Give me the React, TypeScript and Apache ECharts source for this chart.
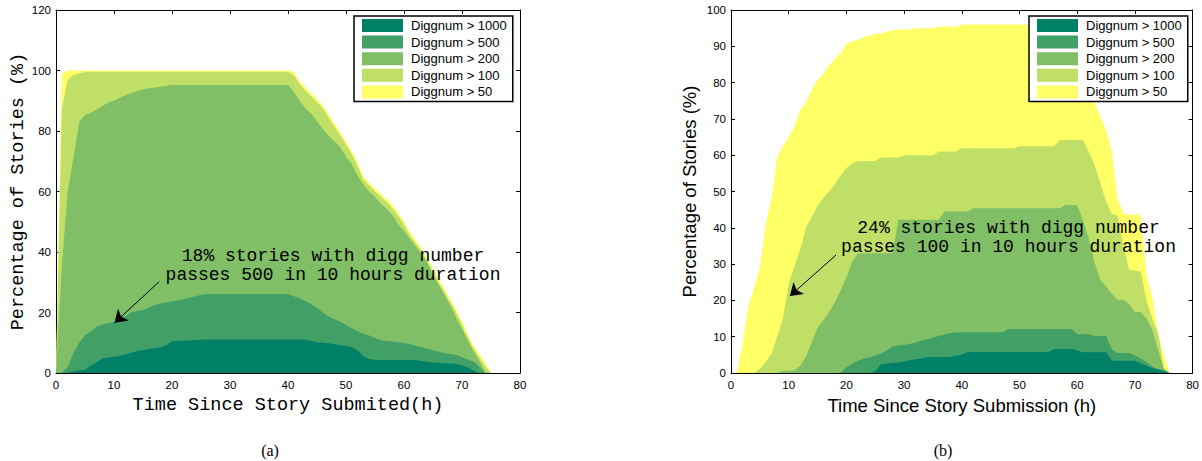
import React, { useEffect, useRef } from "react";
import * as echarts from "echarts";

// hours since submission (x positions of the sampled curves)
const hours = [
  0, 1, 2, 3, 4, 5, 6, 7, 8, 9, 10, 11, 12, 13, 14, 15, 16, 17, 18, 19,
  20, 21, 22, 23, 24, 25, 26, 27, 28, 29, 30, 31, 32, 33, 34, 35, 36, 37, 38, 39,
  40, 41, 42, 43, 44, 45, 46, 47, 48, 49, 50, 51, 52, 53, 54, 55, 56, 57, 58, 59,
  60, 61, 62, 63, 64, 65, 66, 67, 68, 69, 70, 71, 72, 73, 74, 75, 76,
];

const seriesNames = ["Diggnum > 1000", "Diggnum > 500", "Diggnum > 200", "Diggnum > 100", "Diggnum > 50"];
const colors = ["#008066", "#40A066", "#80BF66", "#BFDF66", "#FFFF66"];

// ---- Panel (a) ----
const a50 = [
  0, 99, 100, 100, 100, 100, 100, 100, 100, 100,
  100, 100, 100, 100, 100, 100, 100, 100, 100, 100,
  100, 100, 100, 100, 100, 100, 100, 100, 100, 100,
  100, 100, 100, 100, 100, 100, 100, 100, 100, 100,
  100, 99.5, 96.5, 94.5, 92.5, 90.5, 88.5, 85.5, 82.5, 79.5,
  76.5, 73.3, 69.5, 65, 63, 61, 59.3, 57.5, 55.5, 53,
  50, 46.6, 44, 41.4, 38, 34.6, 31, 27.8, 24.4, 21,
  17, 12.8, 9, 6.2, 3.4, 0, 0,
];
const a100 = [
  0, 87, 97, 98.5, 99, 99.5, 99.6, 99.6, 99.6, 99.6,
  99.6, 99.6, 99.6, 99.6, 99.6, 99.6, 99.6, 99.6, 99.6, 99.6,
  99.6, 99.6, 99.6, 99.6, 99.6, 99.6, 99.6, 99.6, 99.6, 99.6,
  99.6, 99.6, 99.6, 99.6, 99.6, 99.6, 99.6, 99.6, 99.6, 99.6,
  99.6, 98.5, 95.5, 93.5, 91.4, 89.5, 87.5, 84.5, 81.5, 78.5,
  75.5, 72.3, 68.5, 64, 62, 60, 58.3, 56.5, 54.5, 52,
  49, 45.6, 43, 40.4, 37, 33.6, 30, 26.8, 23.4, 20,
  16, 11.8, 8, 5.2, 2.4, 0, 0,
];
const a200 = [
  0, 35, 60, 71, 83, 85.3, 86, 87, 88.3, 89.3,
  90, 91, 91.8, 92.5, 93.2, 93.7, 94.1, 94.4, 94.6, 94.9,
  95.2, 95.2, 95.2, 95.2, 95.2, 95.2, 95.2, 95.2, 95.2, 95.2,
  95.2, 95.2, 95.2, 95.2, 95.2, 95.2, 95.2, 95.2, 95.2, 95.2,
  95.2, 93, 90, 87.5, 85.8, 83.2, 80.7, 78.4, 76.5, 74.6,
  71.5, 69, 65.2, 62.2, 60, 58.2, 56, 54.2, 52.2, 49.2,
  47, 44.4, 41.8, 39.4, 36.6, 32.5, 29, 25.8, 22.3, 18.2,
  14.6, 10.7, 7.2, 4, 0.3, 0, 0,
];
const a500 = [
  0, 0, 2, 6.5, 10, 12.5, 13.8, 15.3, 16, 16.5,
  17, 17.8, 18.8, 20, 20.5, 20.8, 21.6, 22.4, 23, 23.3,
  23.6, 24, 24.4, 24.9, 25.4, 25.8, 26.1, 26.1, 26.1, 26.1,
  26.1, 26.1, 26.1, 26.1, 26.1, 26.1, 26.1, 26.1, 26.1, 26.1,
  26.1, 25.4, 24.7, 23.8, 22.8, 21.5, 20, 18.7, 17.8, 17,
  15.9, 14.8, 13.8, 13, 12.4, 11.6, 10.8, 10.6, 10.4, 10.2,
  9.9, 9.5, 9, 8.5, 8, 7.5, 7, 6.5, 6.3, 6,
  5.2, 4.5, 3.7, 2, 0, 0, 0,
];
const a1000 = [
  0, 0, 0, 0.5, 0.8, 1, 2.5, 3.5, 4.8, 5.1,
  5.4, 5.7, 6.2, 6.8, 7.2, 7.6, 7.9, 8.2, 8.5, 9.2,
  10.5, 10.6, 10.7, 10.8, 10.9, 11, 11.1, 11.1, 11.1, 11.1,
  11.1, 11.1, 11.1, 11.1, 11.1, 11.1, 11.1, 11.1, 11.1, 11.1,
  11.1, 11.1, 11.1, 11.1, 10.6, 10.2, 10, 9.8, 9.5, 9.2,
  8.9, 8.5, 7.5, 5.5, 4.6, 4.4, 4.3, 4.3, 4.3, 4.3,
  4.3, 4.3, 4.3, 4, 3.7, 3.5, 3.4, 3.2, 3.1, 3,
  2.5, 1.8, 0.8, 0, 0, 0, 0,
];

// ---- Panel (b) ----
const b50 = [
  0, 0, 8, 18.5, 23.5, 29, 41, 48, 59.5, 62.5,
  65, 68, 72.5, 74.5, 78, 80.8, 82.4, 84.8, 86.5, 88.2,
  90.6, 91.3, 91.8, 92.4, 93, 93.3, 93.6, 94, 94.4, 94.6,
  94.6, 94.6, 95, 95, 95, 95, 95.4, 95.4, 95.4, 95.4,
  96, 96, 96, 96, 96, 96, 96, 96, 96, 96,
  96, 96, 96, 96, 96, 96, 96, 96, 96, 95,
  92, 87, 80, 74.5, 70.6, 67, 61, 48, 44, 43.6,
  43.6, 43.6, 27, 21, 11, 5, 0,
];
const b100 = [
  0, 0, 0, 0, 0, 1.2, 3, 5.3, 10, 15,
  24.5, 29.5, 34, 40, 43, 46, 48.2, 50, 52, 54.5,
  56.5, 57.8, 58.4, 58.4, 58.4, 58.4, 59.4, 59.4, 59.4, 59.4,
  60, 60, 60, 60, 60, 60, 61, 61, 61, 61,
  61.9, 61.9, 61.9, 61.9, 61.9, 61.9, 61.9, 61.9, 61.9, 61.9,
  62.5, 62.5, 62.5, 62.5, 62.5, 62.5, 62.5, 64.2, 64.2, 64.2,
  64.2, 64.2, 61, 57.5, 52.2, 47.3, 43.8, 43.3, 35, 28.5,
  28.2, 28, 20, 15, 11, 1.5, 0,
];
const b200 = [
  0, 0, 0, 0, 0, 0, 0, 0, 0, 0.6,
  0.6, 0.6, 2, 4.5, 8.5, 12.5, 14.5, 16.8, 19.5, 22.7,
  26.3, 30.5, 33, 33, 33, 33, 33, 33, 33, 42.2,
  42.2, 42.2, 42.2, 42.2, 42.2, 42.2, 42.2, 44.5, 44.5, 44.5,
  44.5, 44.5, 45.4, 45.4, 45.4, 45.4, 45.4, 45.4, 45.4, 45.4,
  45.4, 45.4, 45.4, 45.4, 45.4, 45.4, 45.4, 45.4, 46.3, 46.3,
  46.3, 42, 37, 30.5, 25.6, 23.8, 21.8, 20.2, 20.2, 19,
  16.8, 16.8, 15, 12, 6.5, 1, 0,
];
const b500 = [
  0, 0, 0, 0, 0, 0, 0, 0, 0, 0,
  0, 0, 0, 0, 0, 0, 0, 0, 0, 0,
  1.5, 2.5, 3.4, 3.9, 4.3, 4.8, 5.4, 6.2, 7.2, 7.6,
  7.8, 8, 8.4, 8.9, 9.3, 9.8, 10.2, 10.6, 11, 11.2,
  11.2, 11.2, 11.2, 11.2, 11.2, 11.2, 11.2, 11.2, 12.1, 12.1,
  12.1, 12.1, 12.1, 12.1, 12.1, 12.1, 12.1, 12.1, 12.1, 12.1,
  10.7, 10.7, 10.7, 10.2, 10.2, 10.2, 6.5, 5.5, 5.5, 5.5,
  4.8, 4, 3, 1.8, 1, 0.8, 0,
];
const b1000 = [
  0, 0, 0, 0, 0, 0, 0, 0, 0, 0,
  0, 0, 0, 0, 0, 0, 0, 0, 0, 0,
  0, 0, 0, 0, 0, 0.5, 2.4, 2.6, 2.8, 2.9,
  3.2, 3.5, 3.8, 4, 4.4, 4.4, 4.4, 4.4, 4.4, 4.8,
  5, 5.8, 5.8, 5.8, 5.8, 5.8, 5.8, 5.8, 5.8, 5.8,
  5.8, 5.8, 5.8, 5.8, 5.8, 5.8, 6.6, 6.6, 6.6, 6.6,
  6.2, 5.7, 5.7, 5.7, 5.7, 5.7, 3.4, 3.4, 3.4, 3.4,
  3.4, 2.6, 2, 1.4, 1, 0.5, 0,
];

// annotation arrows (data coordinates: [start], [tip])
const arrowA = [[17.8, 30.2], [10.1, 16.6]];
const arrowB = [[18.2, 32.5], [10.2, 21.2]];

const panelA = [a1000, a500, a200, a100, a50];
const panelB = [b1000, b500, b200, b100, b50];

function pairs(vals: number[]) {
  return hours.map((h, i) => [h, vals[i]]);
}

function buildSeries(panel: number[][], g: number, arrow: number[][]) {
  const out: any[] = [];
  for (let k = panel.length - 1; k >= 0; k--) {
    const s: any = {
      name: seriesNames[k],
      type: "line",
      xAxisIndex: g * 2,
      yAxisIndex: g * 2,
      data: pairs(panel[k]),
      showSymbol: false,
      symbol: "none",
      silent: true,
      color: colors[k],
      itemStyle: { color: colors[k] },
      lineStyle: { width: 0, opacity: 0 },
      areaStyle: { color: colors[k], opacity: 1 },
    };
    if (k === 0) {
      s.markLine = {
        silent: true,
        symbol: ["none", "arrow"],
        symbolSize: 12,
        label: { show: false },
        lineStyle: { color: "#000", width: 1, type: "solid", opacity: 1 },
        itemStyle: { color: "#000" },
        data: [[{ coord: arrow[0] }, { coord: arrow[1] }]],
        animation: false,
      };
    }
    out.push(s);
  }
  return out;
}

const tickFont = { color: "#000", fontSize: 11.5, fontFamily: "Liberation Sans" };

function xAxes(g: number, name: string, nameFont: any, nameGap: number) {
  const common = {
    type: "value",
    gridIndex: g,
    min: 0,
    max: 80,
    interval: 10,
    splitLine: { show: false },
    axisLine: { show: true, onZero: false, lineStyle: { color: "#000", width: 1 } },
    axisTick: { show: true, inside: true, length: 4, lineStyle: { color: "#000" } },
  };
  return [
    {
      ...common,
      position: "bottom",
      axisLabel: { ...tickFont, margin: 6 },
      name,
      nameLocation: "middle",
      nameGap,
      nameTextStyle: nameFont,
    },
    { ...common, position: "top", axisLabel: { show: false } },
  ];
}

function yAxes(g: number, max: number, interval: number, name: string, nameFont: any, nameGap: number) {
  const common = {
    type: "value",
    gridIndex: g,
    min: 0,
    max,
    interval,
    splitLine: { show: false },
    axisLine: { show: true, onZero: false, lineStyle: { color: "#000", width: 1 } },
    axisTick: { show: true, inside: true, length: 4, lineStyle: { color: "#000" } },
  };
  return [
    {
      ...common,
      position: "left",
      axisLabel: { ...tickFont, margin: 5 },
      name,
      nameLocation: "middle",
      nameGap,
      nameTextStyle: nameFont,
    },
    { ...common, position: "right", axisLabel: { show: false } },
  ];
}

function legendAt(left: number, top: number) {
  return {
    left,
    top,
    orient: "vertical",
    data: seriesNames,
    icon: "rect",
    itemWidth: 41,
    itemHeight: 13,
    itemGap: 3.6,
    padding: [3, 6, 3, 8],
    borderColor: "#000",
    borderWidth: 1.5,
    backgroundColor: "#fff",
    selectedMode: false,
    itemStyle: { borderWidth: 0 },
    textStyle: { color: "#000", fontSize: 13, fontFamily: "Liberation Sans", padding: [0, 0, 0, 3] },
    z: 10,
  };
}

const monoName = { color: "#000", fontSize: 18.5, fontFamily: "Liberation Mono" };
const sansName = { color: "#000", fontSize: 18.5, fontFamily: "Liberation Sans" };

function noteText(x: number, y: number, text: string) {
  return {
    type: "text",
    x,
    y,
    z: 20,
    style: {
      text,
      fontSize: 18,
      fontFamily: "Liberation Mono",
      fill: "#000",
      align: "center",
      verticalAlign: "middle",
      textAlign: "center",
      textVerticalAlign: "middle",
    },
  };
}

function caption(x: number, y: number, text: string) {
  return {
    type: "text",
    x,
    y,
    style: {
      text,
      fontSize: 16,
      fontFamily: "Liberation Serif",
      fill: "#000",
      align: "center",
      verticalAlign: "middle",
      textAlign: "center",
      textVerticalAlign: "middle",
    },
  };
}

export default function App() {
  const ref = useRef<HTMLDivElement>(null);
  useEffect(() => {
    if (!ref.current) return;
    const chart = echarts.init(ref.current, undefined, { renderer: "svg" });
    chart.setOption({
      animation: false,
      backgroundColor: "#fff",
      grid: [
        { left: 56, top: 10, width: 464, height: 363, containLabel: false },
        { left: 731, top: 10, width: 463, height: 363, containLabel: false },
      ],
      xAxis: [
        ...xAxes(0, "Time Since Story Submited(h)", monoName, 20),
        ...xAxes(1, "Time Since Story Submission (h)", sansName, 21),
      ],
      yAxis: [
        ...yAxes(0, 120, 20, "Percentage of Stories (%)", monoName, 28),
        ...yAxes(1, 100, 10, "Percentage of Stories (%)", sansName, 32),
      ],
      legend: [legendAt(354, 16), legendAt(1029, 16)],
      series: [...buildSeries(panelA, 0, arrowA), ...buildSeries(panelB, 1, arrowB)],
      graphic: [
        noteText(333, 255.5, "18% stories with digg number"),
        noteText(333, 274.5, "passes 500 in 10 hours duration"),
        noteText(1008.5, 228, "24% stories with digg number"),
        noteText(1008.5, 247, "passes 100 in 10 hours duration"),
        caption(270, 450, "(a)"),
        caption(943, 450, "(b)"),
      ],
    });
    return () => chart.dispose();
  }, []);
  return (
    <div
      ref={ref}
      style={{ position: "fixed", left: 0, top: 0, width: 1202, height: 461, background: "#fff" }}
    />
  );
}
